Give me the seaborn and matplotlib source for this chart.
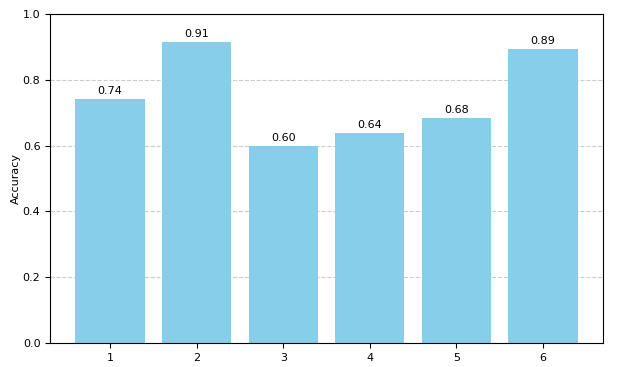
import matplotlib
matplotlib.use("Agg")
import matplotlib.pyplot as plt
import seaborn as sns
import pandas as pd

modelos = ["1", "2", "3", "4", "5", "6"]
acuracia = [0.742, 0.914, 0.599, 0.638, 0.683, 0.892]

df = pd.DataFrame({"modelo": modelos, "acuracia": acuracia})

fig, ax = plt.subplots(figsize=(6.19, 3.67), dpi=100)
sns.barplot(data=df, x="modelo", y="acuracia", color="skyblue", saturation=1,
            width=0.8, ax=ax, zorder=2)

for i, v in enumerate(acuracia):
    ax.text(i, v + 0.01, f"{v:.2f}", ha="center", va="bottom", fontsize=8)

ax.set_ylim(0, 1)
ax.set_xlim(-0.69, 5.69)
ax.set_xlabel("")
ax.set_ylabel("Accuracy", fontsize=8, labelpad=1)
ax.tick_params(labelsize=8)
ax.yaxis.grid(True, linestyle="--", color="#cccccc", linewidth=0.8, zorder=0)
ax.set_axisbelow(True)

plt.subplots_adjust(left=0.081, right=0.974, top=0.962, bottom=0.065)
plt.savefig("out.png", dpi=100)
